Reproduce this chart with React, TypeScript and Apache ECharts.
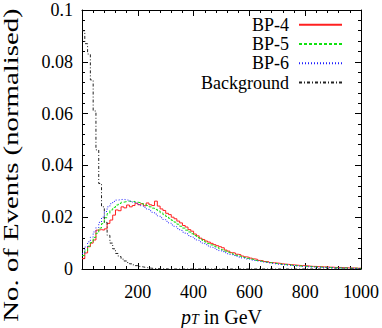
import React, { useEffect, useRef } from 'react';
import * as echarts from 'echarts';

const binWidth = 10;
const xTicks = [0, 200, 400, 600, 800, 1000];
const yTicks = [0, 0.02, 0.04, 0.06, 0.08, 0.1];
const seriesNames = ['BP-4', 'BP-5', 'BP-6', 'Background'];

const bp4 = [
  0.0040, 0.0062, 0.0086, 0.0100, 0.0112, 0.0150, 0.0152, 0.0150, 0.0155, 0.0176,
  0.0189, 0.0208, 0.0228, 0.0225, 0.0240, 0.0236, 0.0247, 0.0240, 0.0245, 0.0254,
  0.0248, 0.0252, 0.0244, 0.0255, 0.0248, 0.0245, 0.0262, 0.0243, 0.0232, 0.0226,
  0.0215, 0.0210, 0.0200, 0.0194, 0.0185, 0.0178, 0.0168, 0.0162, 0.0152, 0.0146,
  0.0135, 0.0128, 0.0119, 0.0114, 0.0108, 0.0104, 0.0099, 0.0094, 0.0090, 0.0086,
  0.0082, 0.0073, 0.0069, 0.0063, 0.0062, 0.0057, 0.0055, 0.0050, 0.0047, 0.0045,
  0.0042, 0.0039, 0.0037, 0.0033, 0.0032, 0.0029, 0.0028, 0.0025, 0.0024, 0.0023,
  0.0022, 0.0020, 0.0019, 0.0018, 0.0017, 0.0016, 0.0015, 0.0014, 0.0013, 0.0013,
  0.0012, 0.0011, 0.0010, 0.0010, 0.0009, 0.0009, 0.0008, 0.0008, 0.0007, 0.0007,
  0.0006, 0.0006, 0.0006, 0.0005, 0.0005, 0.0004, 0.0004, 0.0004, 0.0003, 0.0003,
];

const bp5 = [
  0.0052, 0.0070, 0.0088, 0.0102, 0.0122, 0.0138, 0.0158, 0.0175, 0.0198, 0.0214,
  0.0228, 0.0238, 0.0247, 0.0253, 0.0258, 0.0260, 0.0262, 0.0260, 0.0261, 0.0258,
  0.0256, 0.0252, 0.0249, 0.0245, 0.0240, 0.0235, 0.0230, 0.0224, 0.0217, 0.0210,
  0.0203, 0.0196, 0.0188, 0.0181, 0.0173, 0.0165, 0.0158, 0.0150, 0.0143, 0.0136,
  0.0129, 0.0122, 0.0116, 0.0110, 0.0104, 0.0098, 0.0093, 0.0088, 0.0083, 0.0078,
  0.0074, 0.0069, 0.0065, 0.0061, 0.0057, 0.0053, 0.0050, 0.0047, 0.0044, 0.0041,
  0.0038, 0.0036, 0.0033, 0.0031, 0.0029, 0.0027, 0.0025, 0.0024, 0.0022, 0.0021,
  0.0019, 0.0018, 0.0017, 0.0016, 0.0015, 0.0014, 0.0013, 0.0012, 0.0011, 0.0011,
  0.0010, 0.0009, 0.0009, 0.0008, 0.0008, 0.0007, 0.0007, 0.0006, 0.0006, 0.0005,
  0.0005, 0.0005, 0.0004, 0.0004, 0.0004, 0.0003, 0.0003, 0.0003, 0.0003, 0.0002,
];

const bp6 = [
  0.0060, 0.0085, 0.0105, 0.0123, 0.0143, 0.0160, 0.0180, 0.0200, 0.0222, 0.0240,
  0.0252, 0.0261, 0.0266, 0.0268, 0.0269, 0.0267, 0.0265, 0.0262, 0.0258, 0.0254,
  0.0249, 0.0244, 0.0238, 0.0232, 0.0225, 0.0219, 0.0212, 0.0205, 0.0198, 0.0191,
  0.0184, 0.0177, 0.0170, 0.0163, 0.0156, 0.0149, 0.0142, 0.0136, 0.0129, 0.0123,
  0.0117, 0.0111, 0.0105, 0.0100, 0.0094, 0.0089, 0.0084, 0.0080, 0.0075, 0.0071,
  0.0067, 0.0063, 0.0059, 0.0056, 0.0052, 0.0049, 0.0046, 0.0043, 0.0041, 0.0038,
  0.0036, 0.0033, 0.0031, 0.0029, 0.0027, 0.0026, 0.0024, 0.0022, 0.0021, 0.0019,
  0.0018, 0.0017, 0.0016, 0.0015, 0.0014, 0.0013, 0.0012, 0.0011, 0.0010, 0.0010,
  0.0009, 0.0008, 0.0008, 0.0007, 0.0007, 0.0006, 0.0006, 0.0006, 0.0005, 0.0005,
  0.0004, 0.0004, 0.0004, 0.0004, 0.0003, 0.0003, 0.0003, 0.0002, 0.0002, 0.0002,
];

const background = [
  0.092, 0.087, 0.083, 0.073, 0.061, 0.046, 0.033, 0.024, 0.018, 0.013,
  0.0100, 0.0078, 0.0060, 0.0048, 0.0038, 0.0031, 0.0025, 0.0020, 0.0016, 0.0013,
  0.0010, 0.0008, 0.0006, 0.0004, 0.0003, 0.0002, 0.0002, 0.0001, 0.0001, 0.0001,
  0, 0, 0, 0, 0, 0, 0, 0, 0, 0,
  0, 0, 0, 0, 0, 0, 0, 0, 0, 0,
  0, 0, 0, 0, 0, 0, 0, 0, 0, 0,
  0, 0, 0, 0, 0, 0, 0, 0, 0, 0,
  0, 0, 0, 0, 0, 0, 0, 0, 0, 0,
  0, 0, 0, 0, 0, 0, 0, 0, 0, 0,
  0, 0, 0, 0, 0, 0, 0, 0, 0, 0,
];

const FONT = "'Liberation Serif', 'DejaVu Serif', serif";

function toSteps(vals: number[]) {
  const pts = vals.map((v, i) => [i * binWidth, v]);
  pts.push([vals.length * binWidth, vals[vals.length - 1]]);
  return pts;
}

export default function App() {
  const ref = useRef<HTMLDivElement>(null);

  useEffect(() => {
    document.body.style.margin = '0';
    if (!ref.current) return;
    const chart = echarts.init(ref.current, undefined, { renderer: 'svg' });

    const xMin = xTicks[0];
    const xMax = xTicks[xTicks.length - 1];
    const xInt = xTicks[1] - xTicks[0];
    const yMin = yTicks[0];
    const yMax = yTicks[yTicks.length - 1];
    const yInt = yTicks[1] - yTicks[0];

    const tickCommon = {
      axisLine: { show: true, onZero: false, lineStyle: { color: '#000', width: 1 } },
      axisTick: { show: true, inside: true, length: 6, lineStyle: { color: '#000', width: 1 } },
      minorTick: { show: true, splitNumber: 5, length: 3, lineStyle: { color: '#000', width: 1 } },
      splitLine: { show: false },
    };

    const lineSeries = (name: string, vals: number[], color: string, type: any, z: number) => ({
      name,
      type: 'line',
      step: 'end',
      symbol: 'none',
      data: toSteps(vals),
      xAxisIndex: 0,
      yAxisIndex: 0,
      z,
      lineStyle: { color, width: 1, type },
      itemStyle: { color },
      emphasis: { disabled: true },
    });

    chart.setOption({
      animation: false,
      backgroundColor: '#fff',
      grid: { left: 82, right: 21, top: 10, bottom: 59, containLabel: false, outerBoundsMode: 'none' },
      legend: {
        orient: 'vertical',
        right: 39,
        top: 15,
        align: 'right',
        padding: 0,
        itemWidth: 43,
        itemHeight: 10,
        itemGap: 0,
        selectedMode: false,
        itemStyle: { opacity: 0 },
        textStyle: { fontFamily: FONT, fontSize: 18, color: '#000', lineHeight: 19.3, padding: [0, 5, 0, 0] },
        data: seriesNames,
      },
      xAxis: [
        {
          type: 'value',
          min: xMin,
          max: xMax,
          interval: xInt,
          position: 'bottom',
          ...tickCommon,
          axisLabel: {
            show: true,
            showMinLabel: false,
            margin: 14,
            fontFamily: FONT,
            fontSize: 18,
            color: '#000',
            formatter: (v: number) => String(v),
          },
          name: '{i|p}{s|T}{n| in GeV}',
          nameLocation: 'middle',
          nameGap: 35,
          nameTextStyle: {
            rich: {
              i: { fontFamily: FONT, fontStyle: 'italic', fontSize: 20, lineHeight: 20, color: '#000', verticalAlign: 'bottom' },
              s: { fontFamily: FONT, fontStyle: 'italic', fontSize: 14, lineHeight: 14, color: '#000', verticalAlign: 'bottom', padding: [7, 0, 0, 0] },
              n: { fontFamily: FONT, fontSize: 20, lineHeight: 20, color: '#000', verticalAlign: 'bottom' },
            },
          },
        },
        {
          type: 'value',
          min: xMin,
          max: xMax,
          interval: xInt,
          position: 'top',
          ...tickCommon,
          axisLabel: { show: false },
        },
      ],
      yAxis: [
        {
          type: 'value',
          min: yMin,
          max: yMax,
          interval: yInt,
          position: 'left',
          ...tickCommon,
          axisLabel: {
            show: true,
            margin: 9,
            fontFamily: FONT,
            fontSize: 18,
            color: '#000',
            formatter: (v: number) => String(Math.round(v * 100) / 100),
          },
        },
        {
          type: 'value',
          min: yMin,
          max: yMax,
          interval: yInt,
          position: 'right',
          ...tickCommon,
          axisLabel: { show: false },
        },
      ],
      graphic: [
        {
          type: 'text',
          x: 11,
          y: 165,
          rotation: Math.PI / 2,
          scaleX: 1.44,
          style: {
            text: 'No. of Events (normalised)',
            fontFamily: FONT,
            fontSize: 20,
            fill: '#000',
            align: 'center',
            verticalAlign: 'middle',
          },
        },
      ],
      series: [
        lineSeries(seriesNames[0], bp4, '#ff2020', 'solid', 2),
        lineSeries(seriesNames[1], bp5, '#10e010', [3, 2], 3),
        lineSeries(seriesNames[2], bp6, '#2020ff', [1, 2], 4),
        lineSeries(seriesNames[3], background, '#222222', [3, 2, 1, 2], 5),
      ],
    });

    return () => chart.dispose();
  }, []);

  return <div ref={ref} style={{ width: 382, height: 328 }} />;
}
